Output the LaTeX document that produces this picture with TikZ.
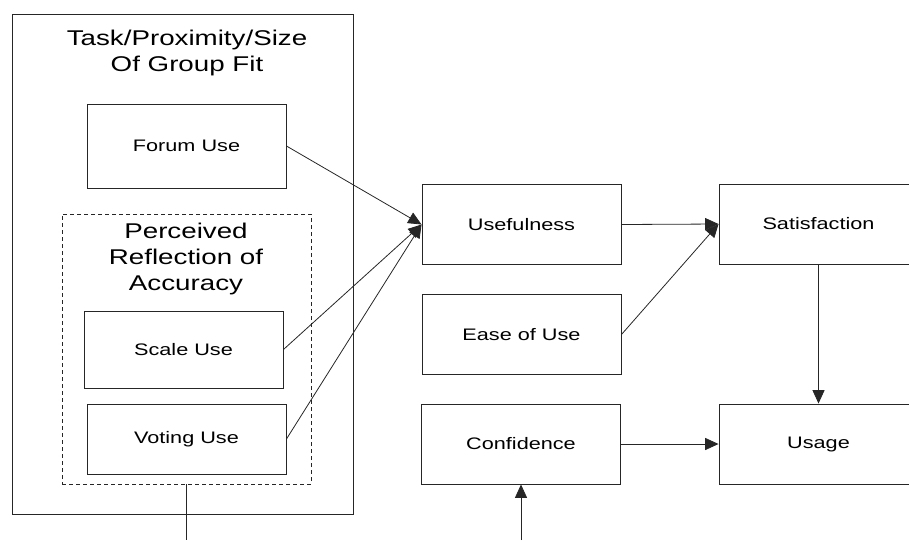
\documentclass[tikz,border=0pt]{standalone}
\usepackage{fontspec}
\setmainfont[FakeStretch=1.3]{Liberation Sans}
\usetikzlibrary{arrows.meta}
\begin{document}
\begin{tikzpicture}[x=0.75pt,y=-0.75pt]
        \tikzstyle{frame}=[rectangle,draw=black!85,line width=0.7pt,inner sep=0pt]
        \tikzstyle{factor}=[frame,minimum width=149.25pt,minimum height=60pt,font=\fontsize{12.5}{14}\selectfont]
        \tikzstyle{heading}=[align=center,inner sep=0pt,font=\fontsize{16}{19}\selectfont]
        \tikzstyle{edge}=[draw,black!85,line width=0.6pt,-{Triangle[length=10pt,width=9pt]}]
        \tikzstyle{link}=[draw,black!85,line width=0.6pt]
        \clip (0,0) rectangle (909,540);
        \begin{scope}
                % fit group
                \node [frame,minimum width=255.75pt,minimum height=375pt] (fit) at (182.5,264) {};
                \node [heading] (fittitle) at (187,53) {Task/Proximity/Size\\Of Group Fit};
                \node [factor,minimum height=63pt] (forum) at (186.5,146) {Forum Use};
                \node [frame,dashed,dash pattern=on 3pt off 2.25pt,minimum width=186.75pt,minimum height=202.5pt] (accuracy) at (186.5,349) {};
                \node [heading,font=\fontsize{16}{19.5}\selectfont] (acctitle) at (186,259) {Perceived\\Reflection of\\Accuracy};
                \node [factor,minimum height=57.75pt] (scale) at (183.5,349.5) {Scale Use};
                \node [factor,minimum height=52.5pt] (voting) at (186.5,439) {Voting Use};
                % model
                \node [factor] (useful) at (521.5,224.5) {Usefulness};
                \node [factor] (ease) at (521.5,334.5) {Ease of Use};
                \node [factor] (confid) at (521,444) {Confidence};
                \node [factor] (satis) at (818.5,224) {Satisfaction};
                \node [factor] (usage) at (818.5,444) {Usage};
                \coordinate (accout) at (186.5,540);
                \coordinate (confin) at (521,540);
                \path[edge] (forum.east) -- (useful.west);
                \path[edge] (scale.east) -- (useful.west);
                \path[edge] (voting.east) -- (useful.west);
                \path[edge] (useful.east) -- (satis.west);
                \path[edge] (ease.east) -- (satis.west);
                \path[edge] (satis) -- (usage);
                \path[edge] (confid) -- (usage);
                \path[edge] (confin) -- (confid);
                \path[link] (accuracy) -- (accout);
        \end{scope}
\end{tikzpicture}
\end{document}
